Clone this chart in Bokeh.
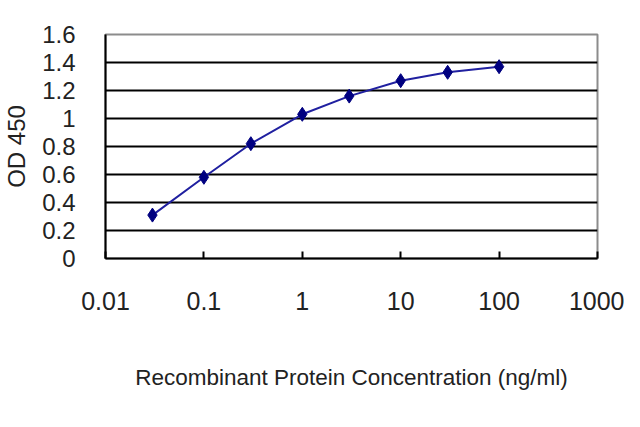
from bokeh.plotting import figure
from bokeh.models import FixedTicker, CustomJSTickFormatter
from bokeh.embed import file_html
from bokeh.resources import INLINE

# concentration (ng/ml) and OD 450
conc = [0.03, 0.1, 0.3, 1, 3, 10, 30, 100]
od = [0.31, 0.58, 0.82, 1.03, 1.16, 1.27, 1.33, 1.37]

x_ticks = [0.01, 0.1, 1, 10, 100, 1000]
y_ticks = [0, 0.2, 0.4, 0.6, 0.8, 1.0, 1.2, 1.4, 1.6]
grid_ticks = [0.2, 0.4, 0.6, 0.8, 1.0, 1.2, 1.4]

FONT = "Liberation Sans"

p = figure(width=624, height=411,
           x_axis_type="log",
           x_range=(0.01, 1000), y_range=(0, 1.6),
           output_backend="svg", toolbar_location=None,
           min_border_left=105, min_border_right=27,
           min_border_top=34, min_border_bottom=153)
p.background_fill_color = "white"
p.border_fill_color = "white"
p.outline_line_color = "#8c8c8c"
p.outline_line_width = 2

# x axis
xa = p.xaxis[0]
xa.ticker = FixedTicker(ticks=x_ticks, minor_ticks=[])
xa.formatter = CustomJSTickFormatter(code="return String(tick)")
xa.axis_line_color = "black"
xa.axis_line_width = 2
xa.major_tick_in = 7
xa.major_tick_out = 0
xa.major_tick_line_width = 2
xa.minor_tick_line_color = None
xa.major_label_text_font = FONT
xa.major_label_text_font_size = "25px"
xa.major_label_text_color = "#222222"
xa.major_label_standoff = 33
xa.axis_label = "Recombinant Protein Concentration (ng/ml)"
xa.axis_label_text_font = FONT
xa.axis_label_text_font_size = "22.5px"
xa.axis_label_text_font_style = "normal"
xa.axis_label_text_color = "#222222"
xa.axis_label_standoff = 52

# y axis
ya = p.yaxis[0]
ya.ticker = FixedTicker(ticks=y_ticks)
ya.formatter = CustomJSTickFormatter(code="return String(Math.round(tick * 10) / 10)")
ya.axis_line_color = "black"
ya.axis_line_width = 2
ya.major_tick_line_color = None
ya.minor_tick_line_color = None
ya.major_label_text_font = FONT
ya.major_label_text_font_size = "24px"
ya.major_label_text_color = "#222222"
ya.major_label_standoff = 24
ya.axis_label = "OD 450"
ya.axis_label_text_font = FONT
ya.axis_label_text_font_size = "24px"
ya.axis_label_text_font_style = "normal"
ya.axis_label_text_color = "#222222"
ya.axis_label_standoff = 9

p.xgrid.grid_line_color = None
p.ygrid.ticker = FixedTicker(ticks=grid_ticks)
p.ygrid.grid_line_color = "black"
p.ygrid.grid_line_width = 2

p.line(conc, od, line_color="#2020a0", line_width=2)
p.scatter(conc, od, marker="diamond", size=14,
          fill_color="#000080", line_color="#000080")

open("out.html", "w").write(file_html(p, INLINE))
